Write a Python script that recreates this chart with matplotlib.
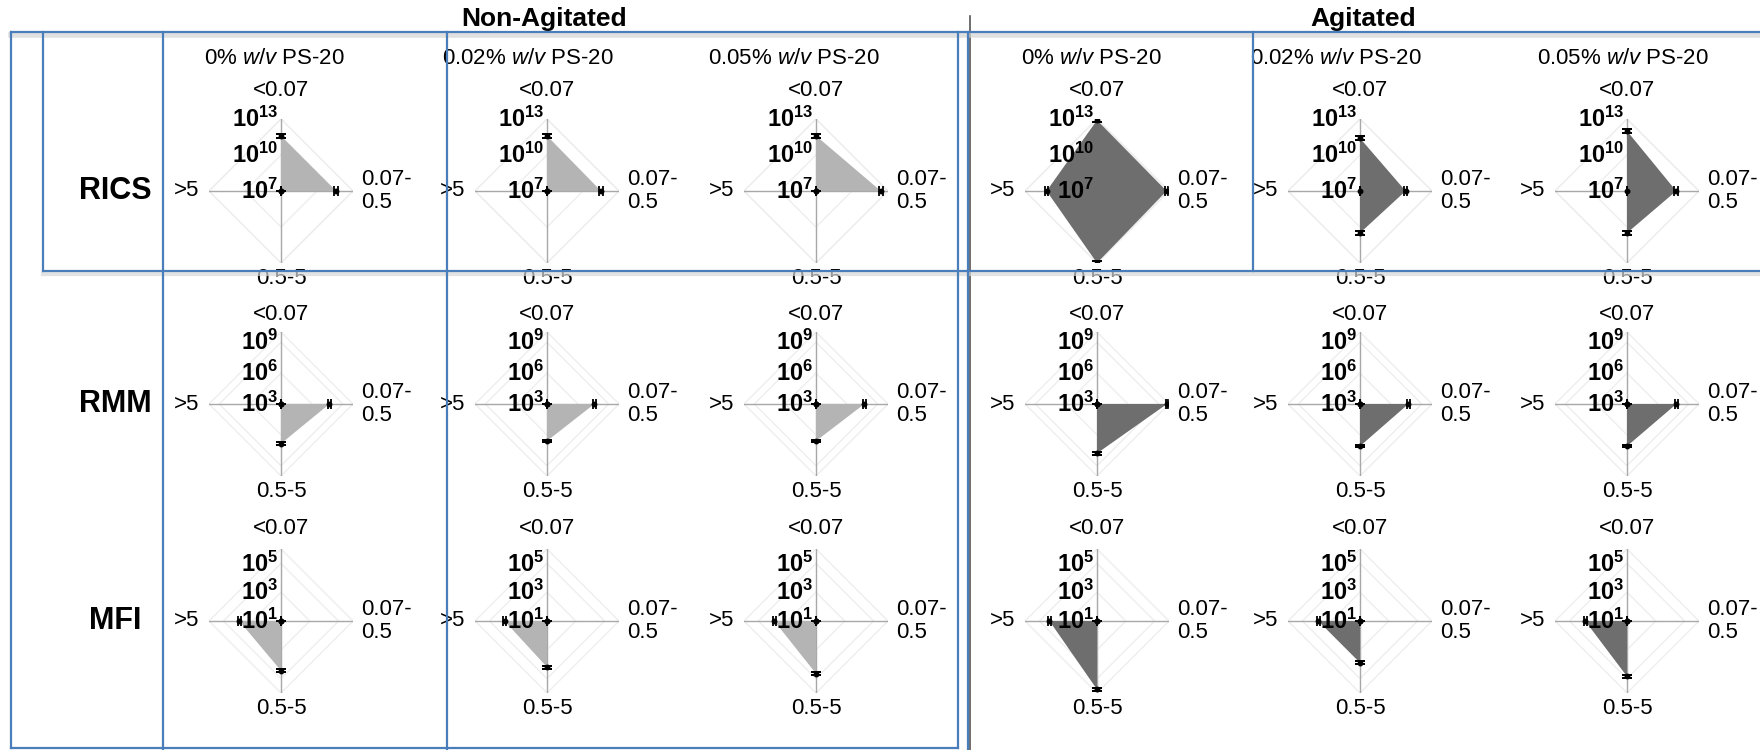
import numpy as np
import matplotlib.pyplot as plt
from matplotlib.lines import Line2D

plt.rcParams['font.family'] = ['Liberation Sans', 'DejaVu Sans']
plt.rcParams['mathtext.fontset'] = 'custom'
plt.rcParams['mathtext.rm'] = 'Liberation Sans'
plt.rcParams['mathtext.it'] = 'Liberation Sans:italic'
plt.rcParams['mathtext.bf'] = 'Liberation Sans:bold'

groups = ['Non-Agitated', 'Agitated']
conditions = ['0% $\\it{w/v}$ PS-20', '0.02% $\\it{w/v}$ PS-20', '0.05% $\\it{w/v}$ PS-20']
methods = ['RICS', 'RMM', 'MFI']
# size bins (um), clockwise from the top
size_bins = ['<0.07', '0.07-\n0.5', '0.5-5', '>5']

# log10 particle counts, columns: 3 non-agitated then 3 agitated
# each entry: [<0.07, 0.07-0.5, 0.5-5, >5]
rics_log = [[11.6, 11.6, 7.0, 7.0],
            [11.6, 11.5, 7.0, 7.0],
            [11.6, 12.4, 7.0, 7.0],
            [12.9, 12.8, 13.0, 11.2],
            [11.4, 10.8, 10.5, 7.0],
            [12.0, 11.1, 10.5, 7.0]]
rmm_log = [[3.0, 7.7, 6.85, 3.0],
           [3.0, 7.6, 6.6, 3.0],
           [3.0, 7.7, 6.6, 3.0],
           [3.0, 9.8, 7.8, 3.0],
           [3.0, 7.7, 7.1, 3.0],
           [3.0, 7.8, 7.1, 3.0]]
mfi_log = [[1.0, 1.0, 4.45, 3.9],
           [1.0, 1.0, 4.2, 3.95],
           [1.0, 1.0, 4.65, 3.9],
           [1.0, 1.0, 5.75, 4.3],
           [1.0, 1.0, 3.9, 3.9],
           [1.0, 1.0, 4.85, 3.9]]
# error bars (decades)
err_log = [0.15, 0.12, 0.1]

# radial axis range and labelled ticks (log10)
r_limits = [(7, 13), (3, 10), (1, 6)]
r_ticks = [[7, 10, 13], [3, 6, 9], [1, 3, 5]]

data = [rics_log, rmm_log, mfi_log]
fill_colors = ['#b4b4b4', '#6e6e6e']

# layout in pixels
W, H = 1760, 750
col_x = [281, 547, 816, 1097, 1360, 1627]
row_y = [191, 404, 621]
R = 72
sub_x = [274, 528, 794, 1091, 1336, 1623]
top_off = [28, 18, 21]

fig = plt.figure(figsize=(W / 100, H / 100), dpi=100)

thetas = np.array([0, np.pi / 2, np.pi, 3 * np.pi / 2])
for i, method in enumerate(methods):
    lo, hi = r_limits[i]
    for j in range(6):
        ax = fig.add_axes([(col_x[j] - R) / W, 1 - (row_y[i] + R) / H, 2 * R / W, 2 * R / H],
                          projection='polar')
        ax.set_theta_zero_location('N')
        ax.set_theta_direction(-1)
        ax.set_rscale('log')
        ax.set_rlim(10.0 ** lo, 10.0 ** hi)
        ax.set_xticks([])
        ax.set_yticks([])
        ax.grid(False)
        ax.spines['polar'].set_visible(False)
        ax.patch.set_alpha(0)

        closed = np.append(thetas, thetas[0])
        for e in r_ticks[i][1:] + [hi]:
            ax.plot(closed, [10.0 ** e] * 5, color='#eeeeee', lw=1, zorder=0)
        for th in thetas:
            ax.plot([th, th], [10.0 ** lo, 10.0 ** hi], color='#a8a8a8', lw=1, zorder=1)

        v = np.array(data[i][j])
        r = 10.0 ** v
        ax.fill(closed, np.append(r, r[0]), color=fill_colors[j // 3], lw=0, zorder=2)
        e = np.where(v > lo, err_log[i], 0.0)
        ax.errorbar(thetas, r, yerr=[r - 10.0 ** (v - e), 10.0 ** (v + e) - r],
                    fmt='o', ms=3.2, color='k', ecolor='k', elinewidth=1.2,
                    capsize=3.5, capthick=1.3, zorder=3)

        for t in r_ticks[i]:
            ax.annotate(r'$\mathbf{10^{%d}}$' % t, xy=(0, 10.0 ** t), xytext=(-3, -8),
                        textcoords='offset pixels', ha='right', va='baseline',
                        fontsize=17, zorder=4)
        rmax = 10.0 ** hi
        ax.annotate(size_bins[0], xy=(0, rmax), xytext=(0, top_off[i]),
                    textcoords='offset pixels', ha='center', va='center', fontsize=16)
        ax.annotate(size_bins[1], xy=(np.pi / 2, rmax), xytext=(8, 0),
                    textcoords='offset pixels', ha='left', va='center', fontsize=16,
                    linespacing=1.15)
        ax.annotate(size_bins[2], xy=(np.pi, rmax), xytext=(0, -15),
                    textcoords='offset pixels', ha='center', va='center', fontsize=16)
        ax.annotate(size_bins[3], xy=(3 * np.pi / 2, rmax), xytext=(-10, 0),
                    textcoords='offset pixels', ha='right', va='center', fontsize=16)

# titles
fig.text(544 / W, 1 - 19 / H, groups[0], ha='center', va='center', fontsize=19, fontweight='bold')
fig.text(1363 / W, 1 - 19 / H, groups[1], ha='center', va='center', fontsize=19, fontweight='bold')
for j in range(6):
    fig.text(sub_x[j] / W, 1 - 58 / H, conditions[j % 3], ha='center', va='center', fontsize=16)
for i, method in enumerate(methods):
    fig.text(115 / W, 1 - row_y[i] / H, method, ha='center', va='center',
             fontsize=22, fontweight='bold')

def line(x0, y0, x1, y1, **kw):
    fig.add_artist(Line2D([x0 / W, x1 / W], [1 - y0 / H, 1 - y1 / H], **kw))

# separator between groups
line(970, 16, 970, 750, color='#555555', lw=1.2, zorder=5)

# shadows under the box tops
line(11, 35, 1760, 35, color='#d4d4d4', lw=4, alpha=0.7, zorder=5)
line(43, 274, 1760, 274, color='#d8d8d8', lw=3, alpha=0.7, zorder=5)

# blue annotation boxes
blue = dict(color='#4a7ebb', lw=1.6, zorder=6)
line(11, 32, 1760, 32, **blue)
line(11, 32, 11, 748, **blue)
line(11, 748, 958, 748, **blue)
line(958, 32, 958, 748, **blue)
line(968, 32, 968, 750, **blue)
line(43, 32, 43, 271, **blue)
line(43, 271, 1760, 271, **blue)
line(163, 32, 163, 750, **blue)
line(447, 32, 447, 750, **blue)
line(1253, 32, 1253, 271, **blue)

fig.savefig('out.png', dpi=100)
